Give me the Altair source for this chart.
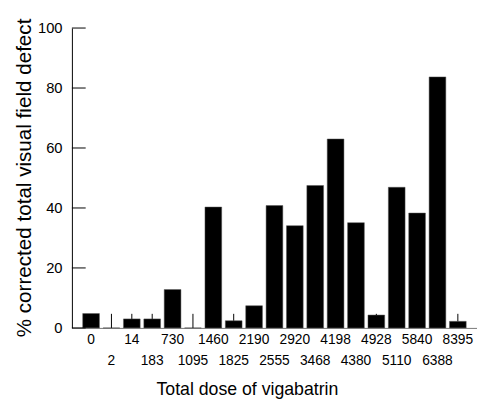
import altair as alt
import pandas as pd

# ---- data ----
doses = ["0", "2", "14", "183", "730", "1095", "1460", "1825", "2190", "2555",
         "2920", "3468", "4198", "4380", "4928", "5110", "5840", "6388", "8395"]
defect = [4.8, 0.0, 3.0, 3.0, 12.8, 0.0, 40.3, 2.4, 7.4, 40.8,
          34.1, 47.5, 63.0, 35.1, 4.3, 46.9, 38.3, 83.7, 2.2]

err_doses = ["2", "14", "183", "1095", "1825", "4928", "8395"]
err_low = [0.0, 3.0, 3.0, 0.0, 2.4, 4.3, 2.2]
err_high = [4.7, 4.7, 4.7, 4.7, 4.7, 4.7, 4.7]

y_ticks = [0, 20, 40, 60, 80, 100]
second_row = ["2", "183", "1095", "1825", "2555", "3468", "4380", "5110", "6388"]

FONT = "Liberation Sans"

bars_df = pd.DataFrame({"dose": doses, "defect": defect})
err_df = pd.DataFrame({"dose": err_doses, "low": err_low, "high": err_high})
tick_df = pd.DataFrame({"t": y_ticks})

row_list = "[" + ",".join("'" + s + "'" for s in second_row) + "]"
label_expr = f"indexof({row_list}, datum.label) >= 0 ? ['', datum.label] : datum.label"

xscale = alt.Scale(domain=doses, paddingInner=0.18, paddingOuter=0.53)
yscale = alt.Scale(domain=[0, 100], nice=False, zero=True)

x_enc = alt.X(
    "dose:N",
    scale=xscale,
    sort=doses,
    axis=alt.Axis(
        title="Total dose of vigabatrin",
        labelExpr=label_expr,
        labelAngle=0,
        labelFontSize=14,
        labelLineHeight=21,
        labelPadding=5,
        labelColor="black",
        ticks=False,
        domainColor="#777777",
        domainWidth=1,
        titleFontSize=18,
        titleFontWeight="normal",
        titleColor="black",
        titleX=178,
        titleY=68,
        titleBaseline="alphabetic",
        titleAlign="center",
        grid=False,
    ),
)

y_enc = alt.Y(
    "defect:Q",
    scale=yscale,
    axis=alt.Axis(
        title="% corrected total visual field defect",
        values=y_ticks,
        tickSize=0,
        labelPadding=10,
        labelFontSize=15,
        labelColor="black",
        domainColor="black",
        titleFontSize=21,
        titleFontWeight="normal",
        titleColor="black",
        titleAngle=270,
        titleX=-42,
        titleY=152,
        titleAlign="center",
        titleBaseline="alphabetic",
        grid=False,
    ),
)

bars = alt.Chart(bars_df).mark_bar(color="black", stroke="#555555", strokeWidth=0.5).encode(
    x=x_enc, y=y_enc
)

errs = alt.Chart(err_df).mark_rule(color="black", strokeWidth=1).encode(
    x=alt.X("dose:N", scale=xscale, sort=doses),
    y=alt.Y("low:Q", scale=yscale),
    y2="high:Q",
)

yticks = alt.Chart(tick_df).mark_rule(color="black", strokeWidth=1).encode(
    y=alt.Y("t:Q", scale=yscale),
    x=alt.value(0),
    x2=alt.value(14),
)

chart = (
    alt.layer(bars, errs, yticks)
    .properties(
        width=412,
        height=305,
        autosize=alt.AutoSizeParams(type="none"),
        padding={"left": 65, "top": 17, "right": 0, "bottom": 75},
    )
    .configure(font=FONT)
    .configure_view(stroke=None)
)

chart.save("out.html", embed_options={"renderer": "svg", "actions": False})
